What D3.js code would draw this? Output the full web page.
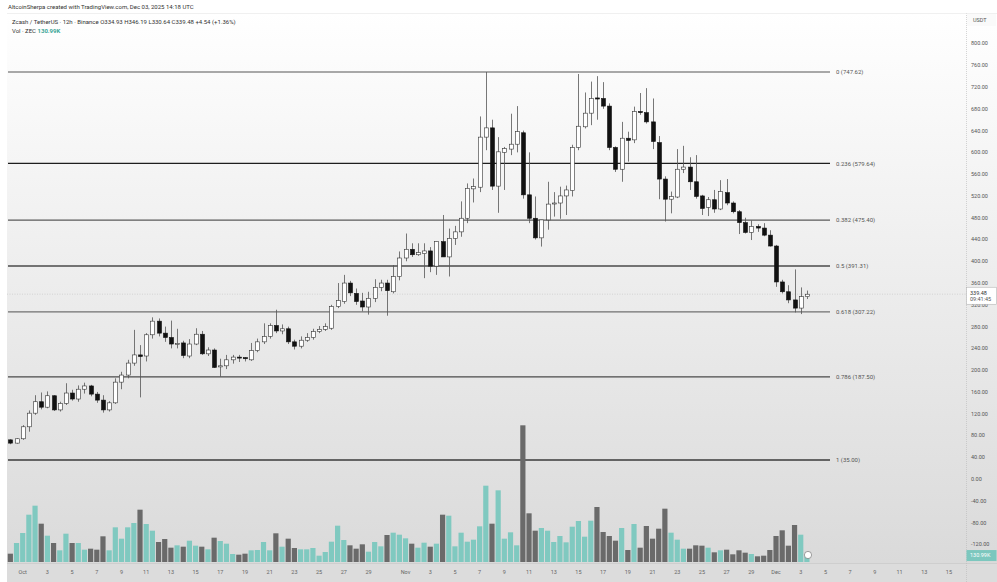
<!DOCTYPE html>
<html>
<head>
<meta charset="utf-8">
<script src="https://cdn.jsdelivr.net/npm/d3@7"></script>
<style>
html,body{margin:0;padding:0;background:#fff;}
svg{display:block;font-family:Roboto,"Liberation Sans",sans-serif;}
</style>
</head>
<body>
<svg id="chart" width="997" height="582"></svg>
<script>
// ---------- DATA ----------
const candleStart = "2025-09-30T00:00:00Z";
const candleEnd = "2025-12-03T12:00:00Z";

const open = [72,66,74,96,121,142,132,153,127,139, 158,147,165,171,156,145,127,140,178,191,
 213,228,226,265,290,268,260,248,250,226, 248,266,230,237,206,208,219,224,223,219,
 236,252,262,282,272,276,252,244,255,260, 271,275,277,317,326,360,341,327,316,332,
 352,360,344,372,406,422,412,414,419,391, 436,408,442,454,479,533,536,628,645,538,
 600,606,615,636,522,479,443,476,506,507, 520,530,609,647,672,700,699,685,609,569,
 626,623,675,673,656,618,551,514,518,569, 573,546,520,499,513,496,526,507,491,471,
 453,464,461,448,428,362,344,329,314,334.93];
const high = [73,75,99,126,154,159,161,154,142,176, 164,172,177,173,160,154,143,185,197,219,
 274,246,268,297,295,280,291,276,254,257, 277,272,242,240,221,228,228,228,224,250,
 258,286,286,311,284,280,256,262,268,276, 281,286,320,360,375,364,350,342,344,367,
 366,366,393,418,451,433,433,433,426,436, 485,460,465,510,543,552,666,747.62,660,628,
 610,671,685,640,600,519,476,546,527,537, 539,614,744,710,730,740,729,690,611,656,
 638,684,709,718,699,630,556,528,606,612, 591,595,522,518,531,549,551,510,494,480,
 475,468,470,457,430,366,356,385,352,346.19];
const low = [64,65,72,87,118,128,130,125,124,136, 144,142,157,152,140,122,124,138,165,185,
 208,150,216,258,262,252,240,240,222,222, 246,228,226,204,188,202,212,215,216,217,
 233,248,258,268,266,248,238,240,252,256, 268,272,274,314,322,336,320,308,302,325,
 345,300,341,365,400,408,410,369,380,375, 420,372,430,445,470,508,527,604,531,489,
 531,595,600,515,470,440,427,458,482,478, 485,519,604,644,650,660,680,604,564,546,
 583,617,669,653,606,514,473,488,516,562, 531,515,485,483,489,494,503,488,450,451,
 439,454,446,427,353,341,323,306,303,330.64];
const close = [66,74,96,121,142,132,153,127,139,158, 147,165,171,156,145,127,140,178,191,213,
 228,225,265,290,268,260,248,249,227,248, 266,230,237,205,208,219,224,223,221,236,
 252,262,282,272,276,252,244,255,260,271, 275,280,317,328,360,342,326,316,332,352,
 360,346,372,406,422,412,416,419,391,436, 408,442,454,479,534,537,628,645,538,601,
 607,615,638,522,479,443,476,505,507,520, 531,609,648,672,699,698,685,609,569,626,
 622,675,673,656,620,551,514,519,569,573, 546,519,497,513,496,528,507,491,471,453,
 464,461,448,428,362,344,329,314,335,339.48];
// volume in thousands of ZEC
const volume = [183,418,638,1041,1239,843,579,418,257,623, 418,418,271,293,271,565,257,763,513,763,
 858,1151,836,689,440,506,315,367,337,469, 359,337,279,535,462,403,176,161,183,257,
 264,440,257,631,337,513,308,279,279,308, 139,220,447,799,484,367,293,389,227,440,
 345,594,645,601,521,403,315,425,337,403, 1041,1019,345,645,447,491,785,1679,843,1577,
 513,653,367,3007,1071,689,748,689,440,572, 433,777,902,557,909,1210,660,572,469,748,
 264,836,315,792,513,733,1173,645,491,293, 293,367,359,315,213,257,271,169,257,205,
 176,125,139,264,572,697,359,814,601,130.99];

const fibLevels = [0, 0.236, 0.382, 0.5, 0.618, 0.786, 1];
const fibPrices = [747.62, 579.64, 475.40, 391.31, 307.22, 187.50, 35.00];
const fibColors = ["#8c8c8c","#1e1e1e","#5a5a5a","#4a4a4a","#707070","#4a4a4a","#3a3a3a"];

const priceTicks = [800,760,720,680,640,600,560,520,480,440,400,360,320,280,240,200,160,120,80,40,0,-40,-80,-120];

const timeTickDates = ["2025-10-01","2025-10-03","2025-10-05","2025-10-07","2025-10-09","2025-10-11","2025-10-13","2025-10-15",
 "2025-10-17","2025-10-19","2025-10-21","2025-10-23","2025-10-25","2025-10-27","2025-10-29",
 "2025-11-01","2025-11-03","2025-11-05","2025-11-07","2025-11-09","2025-11-11","2025-11-13","2025-11-15",
 "2025-11-17","2025-11-19","2025-11-21","2025-11-23","2025-11-25","2025-11-27","2025-11-29",
 "2025-12-01","2025-12-03","2025-12-05","2025-12-07","2025-12-09","2025-12-11","2025-12-13","2025-12-15"];
const timeTickLabels = ["Oct","3","5","7","9","11","13","15","17","19","21","23","25","27","29",
 "Nov","3","5","7","9","11","13","15","17","19","21","23","25","27","29",
 "Dec","3","5","7","9","11","13","15"];

const lastPrice = 339.48;
const lastVolumeLabel = "130.99K";

// ---------- BUILD ----------
const W = 997, H = 582;
const svg = d3.select("#chart");
const font = 'Roboto,"Liberation Sans",sans-serif';

const times = d3.utcHour.every(12).range(new Date(candleStart), new Date(+new Date(candleEnd) + 1));
const data = times.map((t, i) => ({t, o: open[i], h: high[i], l: low[i], c: close[i], v: volume[i]}));

const x = d3.scaleUtc().domain([new Date(candleStart), new Date(candleEnd)]).range([10.35, 806.9]);
const y = d3.scaleLinear().domain([35, 747.62]).range([460, 72]);
const yVol = d3.scaleLinear().domain([0, 3300]).range([562, 412]);

const paneL = 7, paneR = 966, paneT = 13, paneB = 563;

// background gradient
const defs = svg.append("defs");
const grad = defs.append("linearGradient").attr("id","bg").attr("x1",0).attr("y1",0).attr("x2",0).attr("y2",1);
grad.append("stop").attr("offset","0%").attr("stop-color","#ffffff");
grad.append("stop").attr("offset","100%").attr("stop-color","#dadada");

svg.append("rect").attr("x",0).attr("y",0).attr("width",W).attr("height",H).attr("fill","#ffffff");
svg.append("rect").attr("x",paneL).attr("y",paneT).attr("width",W-paneL).attr("height",paneB-paneT).attr("fill","url(#bg)");
svg.append("rect").attr("x",paneL).attr("y",paneB).attr("width",W-paneL).attr("height",H-paneB).attr("fill","#dcdcdc");
svg.append("line").attr("x1",paneL).attr("x2",W).attr("y1",paneB+0.5).attr("y2",paneB+0.5).attr("stroke","#c4c4c4").attr("stroke-width",0.6);
svg.append("line").attr("x1",paneR+0.5).attr("x2",paneR+0.5).attr("y1",paneT).attr("y2",H).attr("stroke","#b8b8b8").attr("stroke-width",0.6).attr("stroke-dasharray","1,1");
svg.append("line").attr("x1",paneL).attr("x2",W).attr("y1",paneT+0.5).attr("y2",paneT+0.5).attr("stroke","#e6e6e6").attr("stroke-width",0.6);

// fib lines
const fibG = svg.append("g");
fibPrices.forEach((p, k) => {
  fibG.append("line").attr("x1",8).attr("x2",830).attr("y1",y(p)).attr("y2",y(p))
    .attr("stroke",fibColors[k]).attr("stroke-width",1.3);
  fibG.append("text").attr("x",836).attr("y",y(p)).attr("dy","0.35em")
    .attr("font-size",6).attr("fill","#555").attr("font-family",font)
    .text(`${fibLevels[k]} (${fibPrices[k].toFixed(2)})`);
});

// current price line
svg.append("line").attr("x1",paneL).attr("x2",paneR).attr("y1",y(lastPrice)).attr("y2",y(lastPrice))
  .attr("stroke","#c8c8c8").attr("stroke-width",0.7).attr("stroke-dasharray","1,1.5");

// volume bars
svg.append("g").selectAll("rect").data(data).join("rect")
  .attr("x", d => x(d.t) - 2.6).attr("width", 5.2)
  .attr("y", d => yVol(d.v)).attr("height", d => yVol(0) - yVol(d.v))
  .attr("fill", d => d.c >= d.o ? "#80c9c0" : "#6a6a6a");

// candles
const cg = svg.append("g");
cg.selectAll("line").data(data).join("line")
  .attr("x1", d => Math.round(x(d.t)) + 0.5).attr("x2", d => Math.round(x(d.t)) + 0.5)
  .attr("y1", d => y(d.h)).attr("y2", d => y(d.l))
  .attr("stroke", "#555").attr("stroke-width", 0.8);
cg.selectAll("rect").data(data).join("rect")
  .attr("x", d => Math.round(x(d.t)) - 1.5).attr("width", 4)
  .attr("y", d => y(Math.max(d.o, d.c)))
  .attr("height", d => Math.max(1, Math.abs(y(d.o) - y(d.c))))
  .attr("fill", d => d.c >= d.o ? "#ffffff" : "#111111")
  .attr("stroke", d => d.c >= d.o ? "#333" : "#111")
  .attr("stroke-width", 0.6);

// price axis labels
svg.append("g").selectAll("text").data(priceTicks).join("text")
  .attr("x", 971).attr("y", d => y(d)).attr("dy","0.35em")
  .attr("font-size", 5.5).attr("fill", "#555").attr("font-family", font)
  .text(d => d.toFixed(2));

// USDT label
svg.append("rect").attr("x",967).attr("y",14).attr("width",29).attr("height",12).attr("fill","#fafafa");
svg.append("text").attr("x",973).attr("y",20).attr("dy","0.35em").attr("font-size",5.5).attr("fill","#555").attr("font-family",font).text("USDT");

// last price label
svg.append("rect").attr("x",966.5).attr("y",y(lastPrice)-7).attr("width",30).attr("height",17)
  .attr("fill","#ffffff").attr("stroke","#aaa").attr("stroke-width",0.5);
svg.append("text").attr("x",970).attr("y",y(lastPrice)-1.5).attr("dy","0.35em").attr("font-size",5.5).attr("fill","#333").attr("font-family",font).text(lastPrice.toFixed(2));
svg.append("text").attr("x",970).attr("y",y(lastPrice)+5).attr("dy","0.35em").attr("font-size",5.5).attr("fill","#555").attr("font-family",font).text("09:41:45");

// volume label on axis
svg.append("rect").attr("x",966.5).attr("y",yVol(volume[volume.length-1])-6).attr("width",30).attr("height",11).attr("fill","#7cc7be");
svg.append("text").attr("x",970).attr("y",yVol(volume[volume.length-1])-0.5).attr("dy","0.35em").attr("font-size",5.5).attr("fill","#ffffff").attr("font-family",font).text(lastVolumeLabel);

// icon near last bar
svg.append("circle").attr("cx",808).attr("cy",555).attr("r",3.6).attr("fill","#fff").attr("stroke","#666").attr("stroke-width",0.6);

// time axis labels
svg.append("g").selectAll("text").data(timeTickDates).join("text")
  .attr("x", d => x(new Date(d + "T00:00:00Z"))).attr("y", 572).attr("dy","0.35em")
  .attr("text-anchor","middle").attr("font-size",5.5).attr("fill","#666").attr("font-family",font)
  .text((d, i) => timeTickLabels[i]);

// header texts
svg.append("text").attr("x",8).attr("y",9).attr("font-size",6).attr("fill","#333").attr("font-family",font)
  .text("AltcoinSherpa created with TradingView.com, Dec 03, 2025 14:18 UTC");
const leg = svg.append("text").attr("x",12).attr("y",24).attr("font-size",6).attr("fill","#333").attr("font-family",font);
leg.append("tspan").text("Zcash / TetherUS · 12h · Binance  ");
leg.append("tspan").text("O334.93  H346.19  L330.64  C339.48  +4.54 (+1.36%)");
const vl = svg.append("text").attr("x",12).attr("y",33).attr("font-size",6).attr("fill","#333").attr("font-family",font);
vl.append("tspan").text("Vol · ZEC  ");
vl.append("tspan").attr("fill","#3aa597").attr("font-weight","bold").text("130.99K");
</script>
</body>
</html>
